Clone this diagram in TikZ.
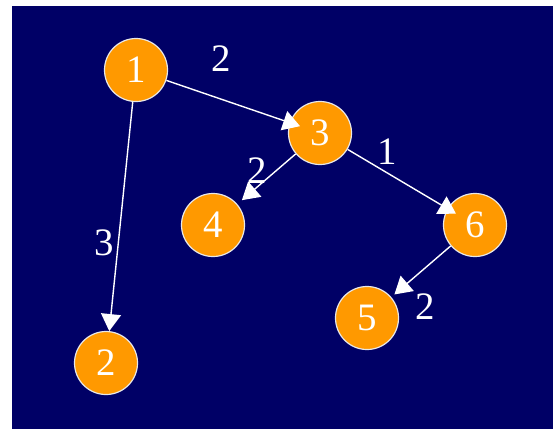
\documentclass[tikz,border=0pt]{standalone}
\usepackage{fontspec}
\setmainfont{Liberation Serif}
\usetikzlibrary{arrows.meta}
\definecolor{navy}{HTML}{000066}
\definecolor{vorange}{HTML}{FF9900}
\definecolor{rim}{HTML}{E8E8E8}
\begin{document}
\begin{tikzpicture}[x=1bp,y=-1bp,
  vertex/.style={circle,fill=vorange,draw=rim,line width=1.2bp,minimum size=63bp,inner sep=0pt,text=white,font=\fontsize{39}{40}\selectfont},
  edgelbl/.style={text=white,inner sep=0pt,font=\fontsize{39}{40}\selectfont},
  link/.style={draw=white,line width=1.4bp,-{Triangle[length=17bp,width=20bp]}}]
\useasboundingbox (0,0) rectangle (553,429);
\fill[navy] (12,6) rectangle (553,429);
\node[vertex] (n1) at (136,70) {1};
\node[vertex] (n2) at (106,363) {2};
\node[vertex] (n3) at (320,133) {3};
\node[vertex] (n4) at (213,225) {4};
\node[vertex] (n5) at (367,318) {5};
\node[vertex] (n6) at (475,225) {6};
\draw[link,shorten >=-11bp] (n1) -- (n3);
\draw[link] (n1) -- (n2);
\draw[link,shorten >=6bp] (n3) -- (n4);
\draw[link,shorten >=-10bp] (n3) -- (n6);
\draw[link,shorten >=4bp] (n6) -- (n5);
\node[edgelbl] (l13) at (221,59) {2};
\node[edgelbl] (l12) at (104,243) {3};
\node[edgelbl] (l34) at (257,171) {2};
\node[edgelbl] (l36) at (387,152) {1};
\node[edgelbl] (l65) at (425,307) {2};
\end{tikzpicture}
\end{document}
